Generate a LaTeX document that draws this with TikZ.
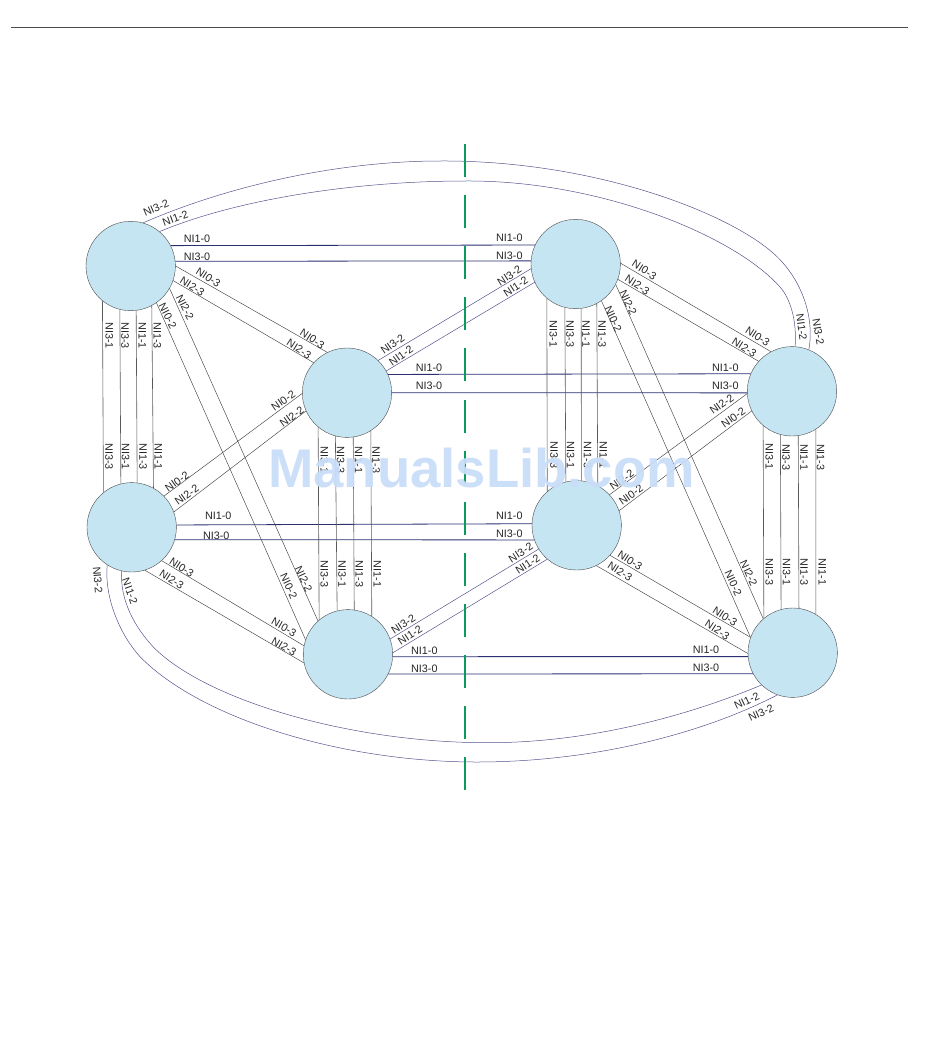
\documentclass[tikz,border=0pt]{standalone}
\usepackage{fontspec}
\setmainfont{Liberation Sans}
\usepackage{tikz}
\definecolor{cpu}{HTML}{C6E5F3}
\definecolor{navy}{HTML}{2B2F70}
\definecolor{arc}{HTML}{55558F}
\definecolor{axis}{HTML}{0B9A5C}
\definecolor{mark}{HTML}{C9DDF8}
\tikzset{
	cpunode/.style={circle, draw=black!70, line width=0.4pt, fill=cpu, minimum size=89.4pt, inner sep=0pt},
	lane/.style={navy, line width=0.8pt},
	wire/.style={black!75, line width=0.45pt},
	riser/.style={black!65, line width=0.6pt},
	arcwire/.style={arc, line width=0.5pt},
	lbl/.style={font=\fontsize{10.8}{12}\selectfont, text=black!85, inner sep=0pt}
}

\begin{document}
\begin{tikzpicture}[x=1pt, y=-1pt]
		\useasboundingbox (0,0) rectangle (950,1047);
		\coordinate (ruleL) at (11,27);
		\coordinate (ruleR) at (908,27);
		\draw[black!70, line width=0.5pt] (ruleL) -- (ruleR);

		\coordinate (axisT) at (465,144);
		\coordinate (axisB) at (465,790);

		% draw nodes
		\node[cpunode] (A) at (130.7,266) {};
		\node[cpunode] (B) at (347,392.7) {};
		\node[cpunode] (C) at (575.7,264) {};
		\node[cpunode] (D) at (792,391.3) {};
		\node[cpunode] (E) at (131.7,527.3) {};
		\node[cpunode] (F) at (348,654.3) {};
		\node[cpunode] (G) at (576.7,525.3) {};
		\node[cpunode] (H) at (792.7,652.7) {};

		% draw horizontal lines
		\foreach \a/\p/\b/\q in {A/27.6/C/155.3, A/6/C/176.5, B/24.3/D/157.6, B/-0.8/D/182.6,
			E/3.8/G/178.7, E/-16.9/G/199.6, F/-3.8/H/185.9, F/-26.6/H/208.9}
			\draw[lane] (\a.\p) -- (\b.\q);

		% draw vertical lines
		\foreach \a/\p/\b/\q in {A/231.2/E/129.1, A/256.6/E/104.5, A/277.2/E/83.2, A/298.9/E/61.5,
			B/230.1/F/130.9, B/255.8/F/104.6, B/278.1/F/82.3, B/302.9/F/58,
			C/230.6/G/131.1, C/256.6/G/104.8, C/277.2/G/84.1, C/298.9/G/62.6,
			D/230.7/H/130.4, D/255.4/H/105.6, D/278.1/H/82.8, D/302/H/59}
			\draw[riser] (\a.\p) -- (\b.\q);

		% draw diagonal lines
		\foreach \a/\p/\b/\q in {A/0/B/116.9, A/-19.7/B/138.3, A/-30.8/F/132.6, A/-55/F/161.2,
			E/44.1/B/181.7, E/20.6/B/204.9, E/-48/F/169, E/-73/F/191.6,
			C/1.7/D/118.4, C/-20.8/D/138.7, C/-27.1/H/131.1, C/-55.8/H/160.2,
			G/43.8/D/183.5, G/19.3/D/206.8, G/-42.4/H/160.2, G/-64.2/H/181.9}
			\draw[wire] (\a.\p) -- (\b.\q);
		\foreach \a/\p/\b/\q in {B/46.3/C/186.9, B/29/C/204.2, F/20.9/G/212, F/2.6/G/229.7}
			\draw[arcwire] (\a.\p) -- (\b.\q);

		% draw wrap around lines
		\draw[arcwire] (A.74) .. controls (230,185) and (340,161) .. (440,161)
			.. controls (600,160) and (745,218) .. (783,263)
			.. controls (800,282) and (815,315) .. (D.68);
		\draw[arcwire] (A.50) .. controls (240,198) and (360,181) .. (465,181)
			.. controls (600,180) and (735,236) .. (780,287)
			.. controls (790,298) and (797,320) .. (D.86);
		\draw[arcwire] (E.237) .. controls (104,600) and (122,637) .. (140,656.7)
			.. controls (200,718) and (340,762) .. (477,762)
			.. controls (590,762) and (700,735) .. (H.250);
		\draw[arcwire] (E.257) .. controls (120,600) and (134,626) .. (153,646.7)
			.. controls (205,700) and (350,742.7) .. (487,742.7)
			.. controls (590,743) and (690,715) .. (H.226.8);

		% draw divider
		\draw[axis, line width=1.6pt, dash pattern=on 33pt off 18.1pt] (axisT) -- (axisB);

		% draw labels
		\foreach \x/\y/\r/\t [count=\i] in {
			156/208.3/23/NI3-2, 175.3/218.3/20/NI1-2, 197/238.3/0/NI1-0, 197/256.3/0/NI3-0,
			208.3/277.7/-33/NI0-3, 192.3/286.7/-33/NI2-3, 185/307.3/-63/NI2-2, 167.7/316/-63/NI0-2,
			109.3/335.7/-90/NI3-1, 125/335.7/-90/NI3-3, 142.3/335.7/-90/NI1-1, 157.3/335.7/-90/NI1-3,
			312.3/339/-33/NI0-3, 299/349/-33/NI2-3, 392.7/344.3/35/NI3-2, 401/355.7/35/NI1-2,
			429/367.3/0/NI1-0, 429/385.3/0/NI3-0, 283.3/400.7/35/NI0-2, 291.7/416.7/35/NI2-2,
			324.3/460/-90/NI3-1, 340.7/460/-90/NI3-3, 358.7/460/-90/NI1-1, 376/460/-90/NI1-3,
			109/456.7/-90/NI3-3, 125.7/456.7/-90/NI3-1, 143/456.7/-90/NI1-3, 158.3/456.7/-90/NI1-1,
			177/481.7/35/NI0-2, 186.7/495/35/NI2-2, 218.3/516/0/NI1-0, 216.3/535.3/0/NI3-0,
			181.7/567.7/-33/NI0-3, 171.7/579.3/-33/NI2-3, 97.7/580/-85/NI3-2, 130/591/-70/NI1-2,
			303.7/579/-65/NI2-2, 288.7/586/-65/NI0-2, 324.3/574/-90/NI3-3, 342/574/-90/NI3-1,
			359.3/574/-90/NI1-3, 377.3/574/-90/NI1-1, 284/627.3/-30/NI0-3, 284/646.7/-30/NI2-3,
			403.3/624/33/NI3-2, 410/635.3/33/NI1-2, 424.3/651/0/NI1-0, 424.3/669/0/NI3-0,
			509.3/237.3/0/NI1-0, 509.3/255.3/0/NI3-0, 509.3/275.7/33/NI3-2, 515.7/286.7/33/NI1-2,
			644.3/270/-33/NI0-3, 637.3/285/-33/NI2-3, 628.3/302.7/-65/NI2-2, 613.3/319/-65/NI0-2,
			553.3/334/-90/NI3-1, 570/334/-90/NI3-3, 586/334/-90/NI1-1, 602/334/-90/NI1-3,
			757.7/336.7/-33/NI0-3, 744.3/347.3/-33/NI2-3, 801.7/327.3/-82/NI1-2, 818.3/331.7/-80/NI3-2,
			725.3/367.3/0/NI1-0, 725.3/385.3/0/NI3-0, 721.7/404.3/35/NI2-2, 733.3/417.7/35/NI0-2,
			769.3/456.7/-90/NI3-1, 786/457.3/-90/NI3-3, 804/457.3/-90/NI1-1, 820.7/457.3/-90/NI1-3,
			554/455/-90/NI3-3, 570.7/455/-90/NI3-1, 587.7/455/-90/NI1-3, 603.3/455/-90/NI1-1,
			621.7/480/35/NI2-2, 631/495/35/NI0-2, 509.3/516/0/NI1-0, 509.3/534/0/NI3-0,
			520.7/552.7/33/NI3-2, 527.7/564.3/33/NI1-2, 630/560.7/-33/NI0-3, 620/571.7/-33/NI2-3,
			748.7/573.3/-65/NI2-2, 733.3/583.3/-65/NI0-2, 769.3/572/-90/NI3-3, 786.7/572/-90/NI3-1,
			804/572/-90/NI1-3, 822.3/572/-90/NI1-1, 725/616.7/-33/NI0-3, 717.3/630/-33/NI2-3,
			706/650/0/NI1-0, 706/668/0/NI3-0, 746.7/700.7/25/NI1-2, 761/712.7/25/NI3-2}
			\node[lbl, rotate=\r] (lab\i) at (\x,\y) {\t};

		% draw watermark
		\node[font=\bfseries\fontsize{54.5}{60}\selectfont, text=mark, inner sep=0pt, opacity=0.95] (stamp) at (481.5,468) {ManualsLib.com};
	\end{tikzpicture}
\end{document}
